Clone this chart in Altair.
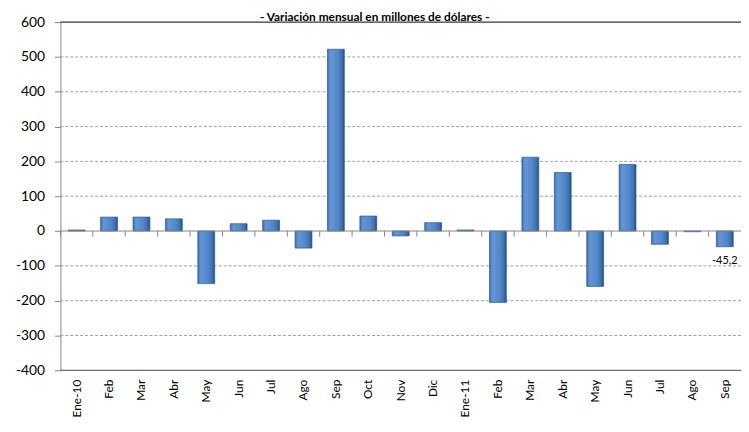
import altair as alt
import pandas as pd

months = ["Ene-10", "Feb-10", "Mar-10", "Abr-10", "May-10", "Jun-10", "Jul-10",
          "Ago-10", "Sep-10", "Oct-10", "Nov-10", "Dic-10", "Ene-11", "Feb-11",
          "Mar-11", "Abr-11", "May-11", "Jun-11", "Jul-11", "Ago-11", "Sep-11"]
values = [3, 40, 40, 35, -151, 21, 31, -49, 522, 43, -14, 24, 3, -205,
          212, 168, -159, 191, -38, -2, -45.2]
y_ticks = [-400, -300, -200, -100, 0, 100, 200, 300, 400, 500, 600]
grid_values = [-300, -200, -100, 100, 200, 300, 400, 500]
note_month = ["Sep-11"]
note_value = [-45.2]
note_text = ["-45,2"]
title_text = "- Variación mensual en millones de dólares -"

df = pd.DataFrame({"mes": months, "valor": values})
grid_df = pd.DataFrame({"valor": grid_values})
top_df = pd.DataFrame({"valor": [600]})
bottom_df = pd.DataFrame({"valor": [-400]})
zero_df = pd.DataFrame({"valor": [0]})
tick_df = pd.DataFrame({"mes": months, "valor": [0] * len(months), "fin": [-16] * len(months)})
note_df = pd.DataFrame({"mes": note_month, "valor": note_value, "t": note_text})

FONT = "Lato"
x_label_expr = ("indexof(['Ene-10','Ene-11'], datum.value) >= 0 ? datum.value : "
                "split(datum.value, '-')[0]")
y_label_expr = "datum.value < 0 ? '-' + abs(datum.value) : '' + datum.value"

x_scale = alt.Scale(paddingInner=0, paddingOuter=0)
y_scale = alt.Scale(domain=[-400, 600], nice=False)

x_axis = alt.Axis(title=None, labelAngle=-90, labelExpr=x_label_expr,
                  domain=False, ticks=False, labelFont=FONT,
                  labelFontSize=12, labelColor="#000000",
                  labelPadding=9, labelOverlap=False)
y_axis = alt.Axis(values=y_ticks, title=None, grid=False,
                  labelExpr=y_label_expr, labelOverlap=False,
                  domainColor="#868686", tickColor="#868686",
                  tickSize=6, labelPadding=10, labelFont=FONT,
                  labelFontSize=14, labelColor="#000000",
                  minExtent=53, maxExtent=53)

x_enc = alt.X("mes:N", sort=months, scale=x_scale, axis=x_axis)
y_enc = alt.Y("valor:Q", scale=y_scale, axis=y_axis)

grad = alt.Gradient(
    gradient="linear", x1=0, x2=1, y1=0, y2=0,
    stops=[alt.GradientStop(offset=0, color="#3f70ad"),
           alt.GradientStop(offset=0.18, color="#6396d8"),
           alt.GradientStop(offset=0.6, color="#5488cb"),
           alt.GradientStop(offset=0.85, color="#4071b0"),
           alt.GradientStop(offset=1, color="#234f86")])

grid = alt.Chart(grid_df).mark_rule(color="#a0a0a0", strokeDash=[3, 2],
                                    strokeWidth=1).encode(y=y_enc)
top_rule = alt.Chart(top_df).mark_rule(color="#000000", strokeWidth=1).encode(y=y_enc)
bottom_rule = alt.Chart(bottom_df).mark_rule(color="#4a4a4a", strokeWidth=1).encode(y=y_enc)

bars = alt.Chart(df).mark_bar(width=alt.RelativeBandSize(0.52), color=grad,
                              stroke="#2c5890", strokeWidth=0.7).encode(
    x=x_enc, y=y_enc, y2=alt.datum(0))

zero_rule = alt.Chart(zero_df).mark_rule(color="#868686", strokeWidth=1).encode(y=y_enc)
zero_ticks = alt.Chart(tick_df).mark_rule(color="#868686", strokeWidth=1).encode(
    x=alt.X("mes:N", sort=months, scale=x_scale, axis=x_axis, bandPosition=0),
    y=y_enc, y2="fin:Q")

note = alt.Chart(note_df).mark_text(baseline="top", dy=8, font=FONT, fontSize=11,
                                    color="#000000").encode(
    x=x_enc, y=y_enc, text="t:N")

chart = alt.layer(grid, top_rule, bottom_rule, bars, zero_rule, zero_ticks, note).properties(
    width=688, height=352,
    autosize=alt.AutoSizeParams(type="none"),
    padding={"left": 53, "top": 12, "right": 0, "bottom": 50},
    title=alt.Title(title_text, font=FONT, fontSize=12, fontWeight="bold",
                    color="#000000", anchor="middle", frame="bounds", offset=-9),
).configure_view(stroke=None)

chart.save("out.html", embed_options={"renderer": "svg", "actions": False})
